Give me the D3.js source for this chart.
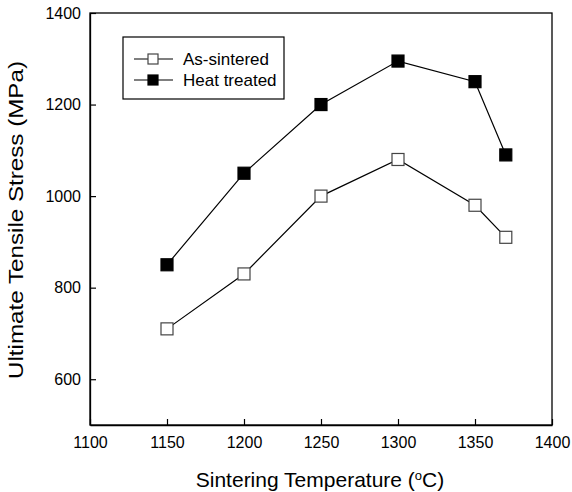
<!DOCTYPE html>
<html><head><meta charset="utf-8">
<script src="https://cdn.jsdelivr.net/npm/d3@7"></script>
<style>body{margin:0;background:#fff}svg{display:block}text{font-family:"Liberation Sans",Arial,sans-serif;fill:#000}</style>
</head><body>
<svg id="c" width="572" height="492"></svg>
<script>
const temps = [1150, 1200, 1250, 1300, 1350, 1370];
const asSintered = [710, 830, 1000, 1080, 980, 910];
const heatTreated = [850, 1050, 1200, 1295, 1250, 1090];
const seriesNames = ["As-sintered", "Heat treated"];
const xTicks = [1100, 1150, 1200, 1250, 1300, 1350, 1400];
const yTicks = [600, 800, 1000, 1200, 1400];

const svg = d3.select("#c");
const L = 90, R = 552, T = 13, B = 425;
const x = d3.scaleLinear().domain([1100, 1400]).range([L, R]);
const y = d3.scaleLinear().domain([500, 1400]).range([B, T]);

// frame
svg.append("rect").attr("x", L).attr("y", T).attr("width", R - L).attr("height", B - T)
  .attr("fill", "none").attr("stroke", "#000").attr("stroke-width", 1.3);

const xa = svg.append("g").attr("transform", `translate(0,${B})`)
  .call(d3.axisBottom(x).tickValues(xTicks).tickFormat(d3.format("d")).tickSizeInner(-6).tickSizeOuter(0).tickPadding(12));
const ya = svg.append("g").attr("transform", `translate(${L},0)`)
  .call(d3.axisLeft(y).tickValues(yTicks).tickFormat(d3.format("d")).tickSizeInner(-6).tickSizeOuter(0).tickPadding(9));
[xa, ya].forEach(a => {
  a.select(".domain").attr("stroke", "#000").attr("stroke-width", 1.3);
  a.selectAll(".tick line").attr("stroke", "#000").attr("stroke-width", 1.2);
  a.selectAll("text").attr("font-size", 16).style("font-family", '"Liberation Sans",Arial,sans-serif');
});

const line = d3.line().x((d, i) => x(temps[i])).y(d => y(d));
const ms = 12;
[[asSintered, "#fff"], [heatTreated, "#000"]].forEach(([vals, fill]) => {
  svg.append("path").datum(vals).attr("d", line).attr("fill", "none").attr("stroke", "#000").attr("stroke-width", 1.2);
  svg.selectAll(null).data(vals).enter().append("rect")
    .attr("x", (d, i) => x(temps[i]) - ms / 2).attr("y", d => y(d) - ms / 2)
    .attr("width", ms).attr("height", ms)
    .attr("fill", fill).attr("stroke", fill === "#fff" ? "#444" : "#000").attr("stroke-width", 1.2);
});

// legend
const lg = svg.append("g");
lg.append("rect").attr("x", 123).attr("y", 37).attr("width", 161).attr("height", 62)
  .attr("fill", "#fff").attr("stroke", "#000").attr("stroke-width", 1.2);
seriesNames.forEach((name, i) => {
  const cy = 59 + i * 21;
  lg.append("line").attr("x1", 134).attr("x2", 173).attr("y1", cy).attr("y2", cy).attr("stroke", "#000").attr("stroke-width", 1.2);
  lg.append("rect").attr("x", 148).attr("y", cy - 5).attr("width", 10).attr("height", 10)
    .attr("fill", i === 0 ? "#fff" : "#000").attr("stroke", i === 0 ? "#444" : "#000").attr("stroke-width", 1.2);
  lg.append("text").attr("x", 183).attr("y", cy + 6).attr("font-size", 17).text(name);
});

// axis titles
svg.append("text").attr("x", (L + R) / 2 - 1).attr("y", 487).attr("text-anchor", "middle").attr("font-size", 21)
  .html('Sintering Temperature (<tspan baseline-shift="super" font-size="13">o</tspan>C)');
svg.append("text").attr("transform", `translate(23,${(T + B) / 2 + 1}) rotate(-90)`).attr("text-anchor", "middle")
  .attr("font-size", 21).attr("textLength", 318).attr("lengthAdjust", "spacingAndGlyphs")
  .text("Ultimate Tensile Stress (MPa)");
</script>
</body></html>
